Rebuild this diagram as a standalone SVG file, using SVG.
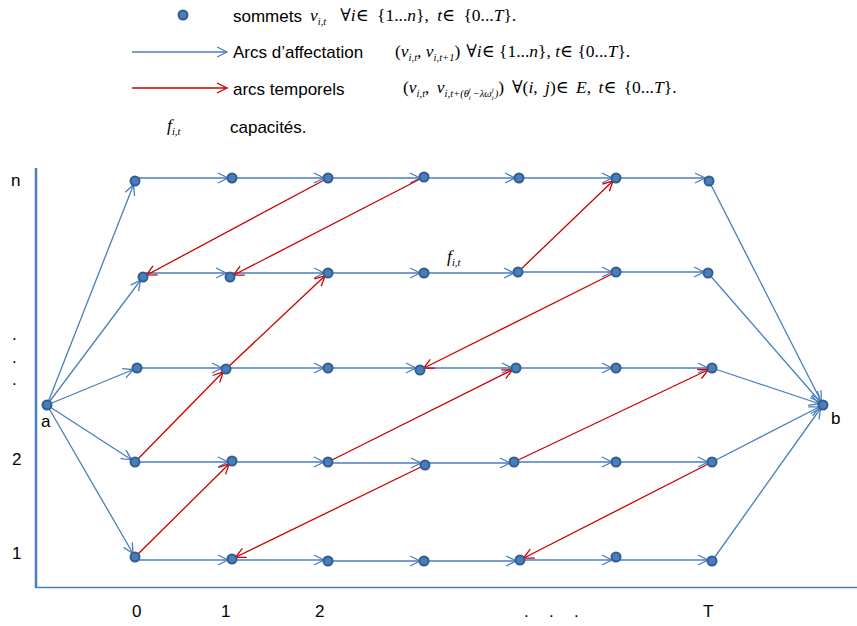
<svg xmlns="http://www.w3.org/2000/svg" width="857" height="626" viewBox="0 0 857 626">
<defs>
<marker id="ab" markerUnits="userSpaceOnUse" viewBox="-12 -7 16 14" markerWidth="16" markerHeight="14" refX="4" refY="0" orient="auto" overflow="visible"><path d="M-10,-5 L0,0 L-10,5" fill="none" stroke="#4A7EBB" stroke-width="1.3"/></marker>
<marker id="ar" markerUnits="userSpaceOnUse" viewBox="-12 -7 16 14" markerWidth="16" markerHeight="14" refX="4" refY="0" orient="auto" overflow="visible"><path d="M-10,-5 L0,0 L-10,5" fill="none" stroke="#CC0000" stroke-width="1.3"/></marker>
<marker id="abl" markerUnits="userSpaceOnUse" viewBox="-12 -7 16 14" markerWidth="16" markerHeight="14" refX="0" refY="0" orient="auto" overflow="visible"><path d="M-10,-5 L0,0 L-10,5" fill="none" stroke="#4A7EBB" stroke-width="1.3"/></marker>
<marker id="arl" markerUnits="userSpaceOnUse" viewBox="-12 -7 16 14" markerWidth="16" markerHeight="14" refX="0" refY="0" orient="auto" overflow="visible"><path d="M-10,-5 L0,0 L-10,5" fill="none" stroke="#CC0000" stroke-width="1.3"/></marker>
</defs>
<style>
.b{stroke:#4A7EBB;stroke-width:1.3;fill:none;marker-end:url(#ab)}
.r{stroke:#CC0000;stroke-width:1.3;fill:none;marker-end:url(#ar)}
.n{fill:#4A7EBB;stroke:#335E93;stroke-width:2}
.s{font-family:"Liberation Sans",Arial,sans-serif;font-size:17px;fill:#000}
.m{font-family:"Liberation Serif","DejaVu Serif","Times New Roman",serif;font-size:17.5px;fill:#000}
.i{font-style:italic}
.sub{font-size:10.5px;font-style:italic}
.tiny{font-size:7px;font-style:italic}
.ax{stroke:#4A7EBB;fill:none}
</style>
<g id="legend">
<circle class="n" cx="183" cy="15" r="4.5"/>
<text class="s" x="233" y="22">sommets</text>
<text class="m" x="310" y="21" word-spacing="4"><tspan class="i">v</tspan><tspan class="sub" dy="4">i,t</tspan><tspan dx="14" dy="-4">∀</tspan><tspan class="i">i</tspan>∈ {1...<tspan class="i">n</tspan>}, <tspan class="i">t</tspan>∈ {0...<tspan class="i">T</tspan>}.</text>
<line x1="132" y1="52" x2="227" y2="52" stroke="#4A7EBB" stroke-width="1.3" marker-end="url(#abl)"/>
<text class="s" x="233" y="58">Arcs d’affectation</text>
<text class="m" x="395" y="57">(<tspan class="i">v</tspan><tspan class="sub" dy="4">i,t</tspan><tspan dy="-4">, </tspan><tspan class="i">v</tspan><tspan class="sub" dy="4">i,t+1</tspan><tspan dy="-4">)</tspan><tspan dx="6">∀</tspan><tspan class="i">i</tspan>∈ {1...<tspan class="i">n</tspan>}, <tspan class="i">t</tspan>∈ {0...<tspan class="i">T</tspan>}.</text>
<line x1="132" y1="88" x2="227" y2="88" stroke="#CC0000" stroke-width="1.3" marker-end="url(#arl)"/>
<text class="s" x="233" y="95">arcs temporels</text>
<text class="m" x="403" y="93" word-spacing="3">(<tspan class="i">v</tspan><tspan class="sub" dy="4">i,t</tspan><tspan dy="-4">, </tspan><tspan class="i">v</tspan><tspan class="sub" dy="4">i,t+(θ</tspan><tspan class="tiny" dy="-5">j</tspan><tspan class="tiny" dx="-2" dy="8">i</tspan><tspan class="sub" dx="2" dy="-3">−λω</tspan><tspan class="tiny" dy="-5">j</tspan><tspan class="tiny" dx="-2" dy="8">i</tspan><tspan class="sub" dx="1" dy="-3">)</tspan><tspan dy="-4">)</tspan><tspan dx="8">∀(</tspan><tspan class="i">i</tspan>, <tspan class="i">j</tspan>)∈ <tspan class="i">E</tspan>, <tspan class="i">t</tspan>∈ {0...<tspan class="i">T</tspan>}.</text>
<text class="m" x="167" y="131"><tspan class="i">f</tspan><tspan class="sub" dy="4">i,t</tspan></text>
<text class="s" x="230" y="133">capacités.</text>
</g>
<g id="axes">
<line class="ax" x1="36" y1="168" x2="36" y2="588" stroke-width="2.5"/>
<line class="ax" x1="35" y1="587.5" x2="857" y2="587.5" stroke-width="1.5"/>
<text class="s" x="11" y="186">n</text>
<text class="s" x="12" y="340">.</text>
<text class="s" x="12" y="363">.</text>
<text class="s" x="12" y="385">.</text>
<text class="s" x="12" y="465">2</text>
<text class="s" x="12" y="559">1</text>
<text class="s" x="132" y="617">0</text>
<text class="s" x="221" y="617">1</text>
<text class="s" x="315" y="617">2</text>
<text class="s" x="524" y="617">.</text>
<text class="s" x="549" y="617">.</text>
<text class="s" x="574" y="617">.</text>
<text class="s" x="703" y="617">T</text>
<text class="s" x="41" y="427">a</text>
<text class="s" x="831" y="424">b</text>
<text class="m" x="447" y="262"><tspan class="i">f</tspan><tspan class="sub" dy="4">i,t</tspan></text>
</g>
<g id="connectors">
<line class="b" x1="47" y1="405" x2="135" y2="181"/>
<line class="b" x1="47" y1="405" x2="143" y2="277"/>
<line class="b" x1="47" y1="405" x2="137" y2="368"/>
<line class="b" x1="47" y1="405" x2="135" y2="462"/>
<line class="b" x1="47" y1="405" x2="135" y2="557"/>
<line class="b" x1="709" y1="181" x2="823" y2="405"/>
<line class="b" x1="708" y1="273" x2="823" y2="405"/>
<line class="b" x1="712" y1="368" x2="823" y2="405"/>
<line class="b" x1="712" y1="462" x2="823" y2="405"/>
<line class="b" x1="712" y1="561" x2="823" y2="405"/>
<path class="b" d="M135,178 H232"/><path class="b" d="M232,178 H328"/><path class="b" d="M328,178 H424"/><path class="b" d="M424,178 H519"/><path class="b" d="M519,178 H616"/><path class="b" d="M616,178 H709"/>
<path class="b" d="M143,273 H230"/><path class="b" d="M230,273 H328"/><path class="b" d="M328,273 H424"/><path class="b" d="M424,273 H518"/><path class="b" d="M518,272 H616"/><path class="b" d="M616,272 H708"/>
<path class="b" d="M137,368 H226"/><path class="b" d="M226,368 H328"/><path class="b" d="M328,368 H420"/><path class="b" d="M420,368 H516"/><path class="b" d="M516,368 H616"/><path class="b" d="M616,368 H712"/>
<path class="b" d="M135,462 H232"/><path class="b" d="M232,462 H328"/><path class="b" d="M328,463 H425"/><path class="b" d="M425,463 H514"/><path class="b" d="M514,462 H616"/><path class="b" d="M616,462 H712"/>
<path class="b" d="M135,560 H232"/><path class="b" d="M232,560 H328"/><path class="b" d="M328,561 H424"/><path class="b" d="M424,561 H520"/><path class="b" d="M520,560 H616"/><path class="b" d="M616,560 H712"/>
<line class="r" x1="328" y1="178" x2="143" y2="277"/>
<line class="r" x1="424" y1="177" x2="230" y2="277"/>
<line class="r" x1="518" y1="272" x2="616" y2="178"/>
<line class="r" x1="135" y1="462" x2="226" y2="369"/>
<line class="r" x1="226" y1="369" x2="328" y2="273"/>
<line class="r" x1="135" y1="557" x2="232" y2="461"/>
<line class="r" x1="616" y1="272" x2="420" y2="370"/>
<line class="r" x1="328" y1="462" x2="516" y2="368"/>
<line class="r" x1="514" y1="462" x2="712" y2="368"/>
<line class="r" x1="425" y1="465" x2="232" y2="559"/>
<line class="r" x1="712" y1="462" x2="520" y2="560"/>
</g>
<g id="node-a"><circle class="n" cx="47" cy="405" r="4.5"/></g>
<g id="node-b"><circle class="n" cx="823" cy="405" r="4.5"/></g>
<g id="row-n">
<circle class="n" cx="135" cy="181" r="4.5"/><circle class="n" cx="232" cy="178" r="4.5"/><circle class="n" cx="328" cy="178" r="4.5"/><circle class="n" cx="424" cy="177" r="4.5"/><circle class="n" cx="519" cy="178" r="4.5"/><circle class="n" cx="616" cy="178" r="4.5"/><circle class="n" cx="709" cy="181" r="4.5"/>
</g>
<g id="row-4">
<circle class="n" cx="143" cy="277" r="4.5"/><circle class="n" cx="230" cy="277" r="4.5"/><circle class="n" cx="328" cy="273" r="4.5"/><circle class="n" cx="424" cy="273" r="4.5"/><circle class="n" cx="518" cy="272" r="4.5"/><circle class="n" cx="616" cy="272" r="4.5"/><circle class="n" cx="708" cy="273" r="4.5"/>
</g>
<g id="row-3">
<circle class="n" cx="137" cy="368" r="4.5"/><circle class="n" cx="226" cy="369" r="4.5"/><circle class="n" cx="328" cy="368" r="4.5"/><circle class="n" cx="420" cy="370" r="4.5"/><circle class="n" cx="516" cy="368" r="4.5"/><circle class="n" cx="616" cy="368" r="4.5"/><circle class="n" cx="712" cy="368" r="4.5"/>
</g>
<g id="row-2">
<circle class="n" cx="135" cy="462" r="4.5"/><circle class="n" cx="232" cy="461" r="4.5"/><circle class="n" cx="328" cy="462" r="4.5"/><circle class="n" cx="425" cy="465" r="4.5"/><circle class="n" cx="514" cy="462" r="4.5"/><circle class="n" cx="616" cy="462" r="4.5"/><circle class="n" cx="712" cy="462" r="4.5"/>
</g>
<g id="row-1">
<circle class="n" cx="135" cy="557" r="4.5"/><circle class="n" cx="232" cy="559" r="4.5"/><circle class="n" cx="328" cy="561" r="4.5"/><circle class="n" cx="424" cy="561" r="4.5"/><circle class="n" cx="520" cy="560" r="4.5"/><circle class="n" cx="616" cy="557" r="4.5"/><circle class="n" cx="712" cy="561" r="4.5"/>
</g>
</svg>
